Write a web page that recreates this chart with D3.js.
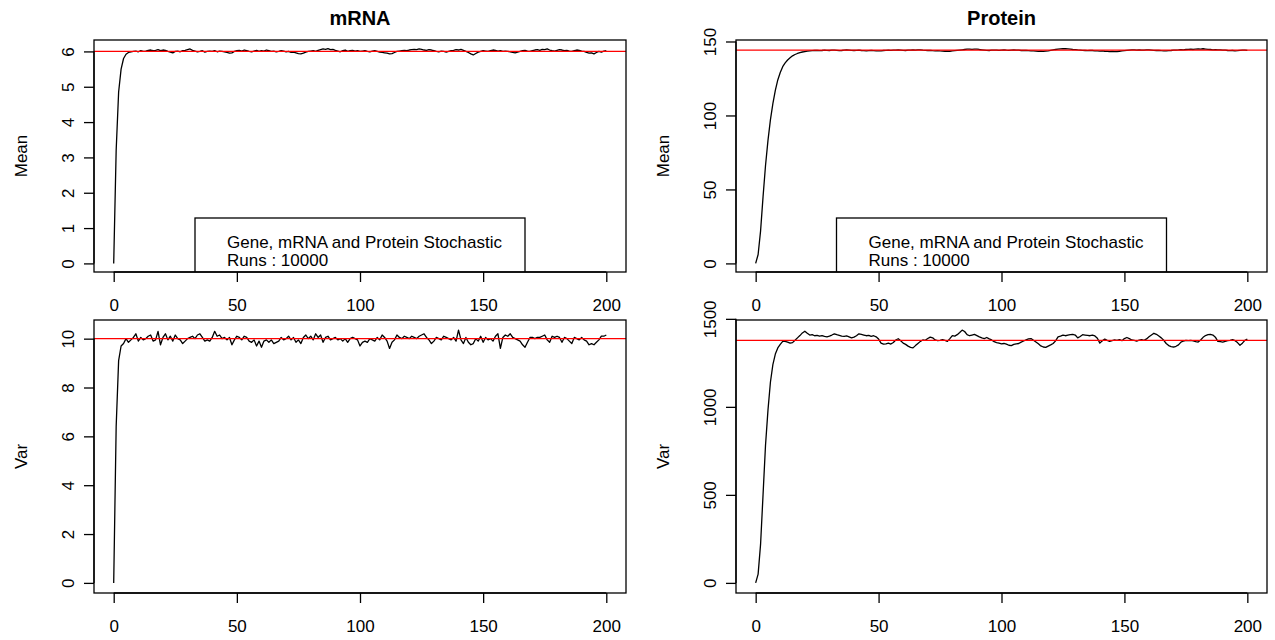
<!DOCTYPE html>
<html>
<head>
<meta charset="utf-8">
<title>Gene, mRNA and Protein Stochastic</title>
<script src="https://cdnjs.cloudflare.com/ajax/libs/d3/7.8.5/d3.min.js"></script>
<style>
  body { margin: 0; background: #fff; }
  text { font-family: "Liberation Sans", Arial, Helvetica, sans-serif; fill: #000; }
</style>
</head>
<body>
<script>
// time steps 0..200
const times = d3.range(0, 201);
const xTicks = [0, 50, 100, 150, 200];

const meanMrna = [
  0, 3.2, 4.85, 5.5, 5.8, 5.92, 5.97, 5.99, 6.00, 6.01,
  5.99, 6.02, 6.00, 6.01, 6.03, 6.04, 6.02, 6.03, 6.05, 6.02,
  6.04, 6.03, 6.00, 5.98, 5.96, 6.00, 6.01, 5.99, 6.02, 6.03,
  6.05, 6.07, 6.03, 6.01, 5.99, 6.00, 6.02, 5.98, 6.00, 6.01,
  6.00, 6.02, 5.99, 6.01, 6.00, 5.99, 5.97, 5.95, 5.96, 6.00,
  6.02, 6.03, 6.01, 6.04, 6.02, 6.00, 5.99, 6.01, 6.03, 6.00,
  6.02, 6.01, 6.04, 6.02, 6.00, 6.01, 5.99, 6.00, 6.02, 6.01,
  5.99, 6.00, 5.97, 5.98, 5.96, 5.94, 5.93, 5.95, 5.98, 6.00,
  6.01, 6.02, 6.00, 6.03, 6.05, 6.07, 6.06, 6.08, 6.05, 6.06,
  6.03, 6.01, 5.99, 6.02, 6.04, 6.00, 6.02, 6.03, 6.01, 6.02,
  6.00, 6.01, 6.02, 6.00, 5.99, 6.01, 6.02, 6.00, 5.98, 5.97,
  5.96, 5.95, 5.93, 5.94, 5.97, 6.00, 6.01, 6.02, 6.03, 6.02,
  6.04, 6.05, 6.06, 6.05, 6.07, 6.06, 6.04, 6.03, 6.05, 6.04,
  6.02, 6.00, 5.99, 6.01, 6.00, 5.98, 6.00, 6.02, 6.03, 6.05,
  6.04, 6.06, 6.03, 6.00, 5.97, 5.93, 5.90, 5.94, 5.98, 6.00,
  6.02, 6.01, 6.00, 6.02, 6.04, 6.03, 6.01, 6.02, 6.00, 6.01,
  6.00, 5.99, 5.97, 5.96, 5.98, 6.00, 6.02, 6.03, 6.01, 6.00,
  6.02, 6.04, 6.05, 6.03, 6.06, 6.05, 6.07, 6.04, 6.02, 6.01,
  6.03, 6.05, 6.04, 6.02, 6.03, 6.01, 6.00, 6.02, 6.04, 6.03,
  6.01, 6.00, 5.97, 5.95, 5.96, 5.93, 5.97, 6.00, 5.98, 6.01,
  6.02
];

const meanProtein = [
  0, 6, 22, 45, 66, 83, 97, 108, 117, 124,
  129, 133, 135.5, 137.5, 139, 140.3, 141.2, 141.9, 142.5, 142.9,
  143.2, 143.5, 143.7, 143.8, 143.9, 144.0, 143.8, 143.9, 144.1, 144.0,
  143.9, 144.1, 144.2, 144.0, 143.8, 143.9, 144.1, 144.3, 144.2, 144.0,
  143.9, 144.0, 144.1, 143.9, 143.8, 143.7, 143.8, 143.9, 143.8, 143.7,
  143.6, 143.7, 143.9, 144.0, 144.1, 144.0, 144.2, 144.1, 144.3, 144.2,
  144.0, 143.9, 144.1, 144.2, 144.3, 144.2, 144.4, 144.3, 144.1, 144.0,
  143.9, 144.0, 143.8, 143.7, 143.8, 143.6, 143.5, 143.4, 143.5, 143.4,
  143.6, 143.8, 144.0, 144.2, 144.4, 144.6, 144.8, 144.9, 144.7, 144.8,
  144.9, 144.6, 144.4, 144.2, 144.0, 143.9, 144.1, 144.2, 144.1, 144.0,
  144.2, 144.3, 144.1, 144.0, 144.2, 144.3, 144.2, 144.1, 143.9, 144.0,
  143.9, 143.8, 143.7, 143.6, 143.5, 143.3, 143.4, 143.3, 143.5, 143.7,
  144.0, 144.3, 144.6, 144.8, 145.0, 145.1, 145.2, 145.0, 144.8, 144.6,
  144.5, 144.3, 144.2, 144.0, 143.9, 143.8, 144.0, 143.9, 143.7, 143.6,
  143.5, 143.6, 143.4, 143.3, 143.2, 143.3, 143.1, 143.2, 143.4, 143.6,
  143.8, 144.0, 144.2, 144.3, 144.4, 144.2, 144.3, 144.1, 144.2, 144.3,
  144.4, 144.2, 144.0, 143.9, 144.0, 143.8, 143.7, 143.6, 143.8, 143.9,
  144.1, 144.2, 144.3, 144.5, 144.4, 144.6, 144.7, 144.8, 144.6, 144.9,
  145.0, 144.8, 145.1, 144.9, 144.7, 144.6, 144.4, 144.5, 144.3, 144.4,
  144.2, 144.1, 143.9, 143.8, 143.9, 143.7, 143.8, 144.0, 144.1, 144.2,
  144.0
];

const varMrna = [
  0, 6.4, 9.1, 9.7, 9.8, 10.0, 9.85, 9.95, 10.05, 10.2,
  9.9, 10.05, 9.95, 10.0, 10.1, 10.15, 9.9, 9.95, 10.3, 9.75,
  10.05, 10.2, 9.95, 10.1, 9.9, 10.15, 10.0, 9.95, 9.8, 9.9,
  10.0, 10.05, 10.1, 10.0, 10.15, 10.2, 10.05, 9.9, 9.95, 9.9,
  10.05, 10.3, 10.1, 10.15, 10.0, 10.05, 9.95, 10.05, 9.75, 9.95,
  10.1, 10.05, 9.95, 10.1, 10.05, 9.9, 9.85, 9.95, 9.7, 9.9,
  9.65, 9.9, 9.95, 9.85, 9.95, 9.8, 9.85, 9.9, 10.05, 9.95,
  10.0, 10.1, 9.95, 10.05, 9.85, 9.95, 9.8, 10.05, 10.15, 10.0,
  10.1, 9.95, 10.2, 10.05, 10.15, 9.85, 10.05, 10.1, 9.95, 10.0,
  10.05, 9.95, 10.0, 9.9, 10.0, 9.85, 10.0, 10.05, 10.0, 9.95,
  9.7, 9.85, 9.9, 9.85, 10.0, 9.95, 9.9, 10.05, 9.95, 10.15,
  10.05, 9.9, 9.6, 9.85, 9.95, 10.15, 10.05, 10.0, 10.1, 10.05,
  10.0, 10.1, 10.05, 10.0, 10.1, 10.15, 10.2, 10.05, 9.95, 9.8,
  9.9, 10.05, 10.0, 9.95, 10.1, 10.05, 10.0, 9.95, 10.05, 9.9,
  10.35, 9.95, 9.8, 10.05, 9.85, 9.75, 9.8, 10.0, 9.9, 10.1,
  9.85, 10.05, 9.95, 10.0, 9.9, 10.1, 10.2, 9.6, 10.05, 10.15,
  10.1, 10.2, 10.05, 10.0, 9.95, 9.9, 9.75, 9.65, 9.85, 10.05,
  10.05, 10.0, 10.05, 10.05, 10.1, 10.15, 9.95, 9.85, 10.1, 10.05,
  10.1, 10.05, 9.85, 10.05, 10.0, 9.9, 9.8, 10.05, 10.0, 9.95,
  10.05, 9.95, 9.9, 9.75, 9.8, 9.75, 9.85, 9.95, 10.1, 10.1,
  10.15
];

const varProtein = [
  0, 50, 220, 500, 780, 980, 1140, 1240, 1300, 1335,
  1355, 1372, 1372, 1368, 1362, 1365, 1378, 1392, 1405, 1420,
  1430, 1418, 1408, 1410, 1404, 1406, 1402, 1405, 1400, 1398,
  1402, 1408, 1415, 1410, 1406, 1402, 1400, 1403, 1398, 1392,
  1396, 1404, 1415, 1412, 1408, 1404, 1406, 1400, 1404, 1398,
  1385, 1362, 1356, 1358, 1362, 1357, 1366, 1380, 1387, 1375,
  1362, 1355, 1345, 1338, 1335, 1348, 1360, 1372, 1380, 1378,
  1388, 1396, 1392, 1380, 1376, 1378, 1382, 1378, 1372, 1388,
  1405, 1402, 1410, 1422, 1436, 1428, 1410, 1404, 1408, 1412,
  1405, 1398, 1392, 1388, 1394, 1386, 1380, 1370, 1365, 1362,
  1358, 1360, 1356, 1350, 1348, 1355, 1358, 1360, 1368, 1374,
  1380, 1386, 1388, 1378, 1368, 1358, 1346, 1340, 1338, 1345,
  1352, 1360, 1375, 1398, 1402, 1408, 1404, 1407, 1410, 1412,
  1408, 1392, 1400, 1410, 1408, 1406, 1404, 1408, 1403, 1390,
  1362, 1375, 1385, 1378, 1372, 1376, 1380, 1378, 1382, 1376,
  1388, 1394, 1388, 1380, 1378, 1374, 1379, 1382, 1378, 1386,
  1398, 1408, 1418, 1412, 1402, 1392, 1378, 1360, 1348, 1342,
  1340, 1344, 1352, 1368, 1374, 1378, 1376, 1378, 1375, 1370,
  1368, 1380, 1395, 1405, 1410, 1412, 1408, 1396, 1372, 1370,
  1368, 1372, 1376, 1378, 1382, 1376, 1365, 1350, 1362, 1378,
  1385
];

// theoretical steady-state values (red lines)
const refValues = [6, 144.1, 10, 1378];
const yTickSets = [
  [0, 1, 2, 3, 4, 5, 6],
  [0, 50, 100, 150],
  [0, 2, 4, 6, 8, 10],
  [0, 500, 1000, 1500]
];
const titles = ["mRNA", "Protein", "", ""];
const yLabels = ["Mean", "Mean", "Var", "Var"];
const legendLines = ["Gene, mRNA and Protein Stochastic", "Runs : 10000"];

const width = 1275, height = 640;

const boxes = [
  {x0: 94,  x1: 626,  y0: 40,  y1: 272},
  {x0: 736, x1: 1267, y0: 40,  y1: 272},
  {x0: 94,  x1: 626,  y0: 320, y1: 593},
  {x0: 736, x1: 1267, y0: 320, y1: 593}
];
const series = [meanMrna, meanProtein, varMrna, varProtein];

const svg = d3.select("body").append("svg")
  .attr("width", width)
  .attr("height", height);

// R-style axis extent: data range padded 4% each side
function rExtent(vals) {
  const [lo, hi] = d3.extent(vals);
  const pad = (hi - lo) * 0.04;
  return [lo - pad, hi + pad];
}

series.forEach(function(vals, i) {
  const b = boxes[i];
  const g = svg.append("g");

  const x = d3.scaleLinear().domain(rExtent(times)).range([b.x0, b.x1]);
  const y = d3.scaleLinear().domain(rExtent(vals)).range([b.y1, b.y0]);

  const clipId = "clip" + i;
  svg.append("clipPath").attr("id", clipId)
    .append("rect")
      .attr("x", b.x0).attr("y", b.y0)
      .attr("width", b.x1 - b.x0).attr("height", b.y1 - b.y0);

  const line = d3.line()
    .x((d, j) => x(times[j]))
    .y(d => y(d));

  const plot = g.append("g").attr("clip-path", "url(#" + clipId + ")");

  plot.append("path")
    .datum(vals)
    .attr("d", line)
    .style("fill", "none")
    .style("stroke", "#000")
    .style("stroke-width", 1.3)
    .style("stroke-linejoin", "round");

  plot.append("line")
    .attr("x1", b.x0).attr("x2", b.x1)
    .attr("y1", y(refValues[i])).attr("y2", y(refValues[i]))
    .style("stroke", "#ff0000")
    .style("stroke-width", 1.3);

  // legend on the top panels, anchored at the bottom of the plot
  if (i < 2) {
    const cx = (b.x0 + b.x1) / 2;
    const lg = plot.append("g");
    lg.append("rect")
      .attr("x", cx - 165).attr("y", b.y1 - 54)
      .attr("width", 330).attr("height", 60)
      .style("fill", "#fff")
      .style("stroke", "#000")
      .style("stroke-width", 1.3);
    lg.selectAll("text")
      .data(legendLines)
      .enter().append("text")
        .attr("x", cx - 133)
        .attr("y", (d, j) => b.y1 - 24.5 + j * 18)
        .style("font-size", "17px")
        .text(d => d);
  }

  // box
  g.append("rect")
    .attr("x", b.x0).attr("y", b.y0)
    .attr("width", b.x1 - b.x0).attr("height", b.y1 - b.y0)
    .style("fill", "none")
    .style("stroke", "#000")
    .style("stroke-width", 1.3);

  // x axis
  const xAxis = g.append("g").attr("transform", "translate(0," + b.y1 + ")")
    .call(d3.axisBottom(x).tickValues(xTicks).tickSize(10).tickPadding(0).tickFormat(d3.format("d")));
  xAxis.select(".domain")
    .attr("d", "M" + x(xTicks[0]) + ",0H" + x(xTicks[xTicks.length - 1]))
    .style("stroke-width", 1.3);
  xAxis.selectAll(".tick line").style("stroke-width", 1.3);
  xAxis.selectAll(".tick text")
    .attr("y", 39).attr("dy", null)
    .style("font-size", "17px")
    .style("font-family", "'Liberation Sans', Arial, sans-serif");

  // y axis, labels parallel to the axis
  const yt = yTickSets[i];
  const yAxis = g.append("g").attr("transform", "translate(" + b.x0 + ",0)")
    .call(d3.axisLeft(y).tickValues(yt).tickSize(10).tickFormat(d3.format("d")));
  yAxis.select(".domain")
    .attr("d", "M0," + y(yt[0]) + "V" + y(yt[yt.length - 1]))
    .style("stroke-width", 1.3);
  yAxis.selectAll(".tick line").style("stroke-width", 1.3);
  yAxis.selectAll(".tick text")
    .attr("x", null).attr("dy", null)
    .attr("text-anchor", "middle")
    .attr("transform", "translate(-20,0) rotate(-90)")
    .style("font-size", "17px")
    .style("font-family", "'Liberation Sans', Arial, sans-serif");

  g.append("text")
    .attr("transform", "translate(" + (b.x0 - 67) + "," + ((b.y0 + b.y1) / 2) + ") rotate(-90)")
    .attr("text-anchor", "middle")
    .style("font-size", "17px")
    .text(yLabels[i]);

  if (titles[i]) {
    g.append("text")
      .attr("x", (b.x0 + b.x1) / 2)
      .attr("y", 25)
      .attr("text-anchor", "middle")
      .style("font-size", "20px")
      .style("font-weight", "bold")
      .text(titles[i]);
  }
});
</script>
</body>
</html>
